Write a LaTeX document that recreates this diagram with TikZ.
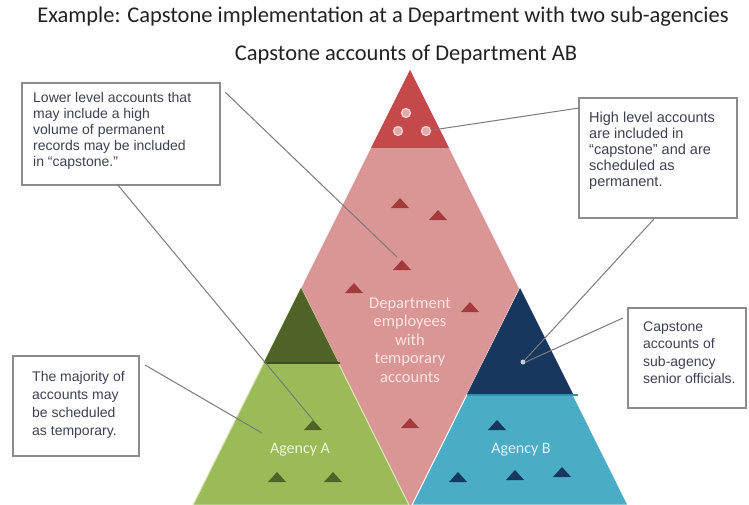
\documentclass[tikz,border=0pt]{standalone}
\usepackage{fontspec}
\setmainfont{Carlito}
\newfontfamily\arialf{Liberation Sans}
\usetikzlibrary{calc}
\definecolor{pinkL}{HTML}{D99694}
\definecolor{redT}{HTML}{C4494B}
\definecolor{redS}{HTML}{A33A3C}
\definecolor{greenL}{HTML}{9BBB59}
\definecolor{greenD}{HTML}{4F6228}
\definecolor{greenE}{HTML}{DCE8BC}
\definecolor{blueL}{HTML}{4BACC6}
\definecolor{blueD}{HTML}{17375E}
\definecolor{blueLine}{HTML}{3B8DB0}
\definecolor{boxgray}{HTML}{8C8C8C}
\definecolor{linec}{HTML}{7A7A7A}
\definecolor{txtc}{HTML}{3C4055}
\definecolor{deptc}{HTML}{F7E4E3}
\definecolor{agAc}{HTML}{EEF4DC}
\definecolor{agBc}{HTML}{DDF0F6}
\definecolor{titlec}{HTML}{222222}
\definecolor{dotf}{HTML}{E4A9A9}
\definecolor{dotr}{HTML}{F4D6D6}
\definecolor{bdot}{HTML}{C5CCDA}
\newcommand\smtri[3]{\fill[#1] (#2-9,#3+5) -- (#2+9,#3+5) -- (#2,#3-5) -- cycle;}
\begin{document}
\begin{tikzpicture}[x=1pt,y=-1pt,
  box/.style={draw=boxgray, line width=1.3pt, fill=white, inner sep=0pt},
  btext/.style={inner sep=0pt, anchor=north west, align=left, text=txtc},
  conn/.style={draw=linec, line width=1pt},
  ttl/.style={inner sep=0pt, text=titlec, font=\fontsize{22.5}{27}\selectfont},
  dotnode/.style={circle, inner sep=0pt, minimum size=9pt, fill=dotf, draw=dotr, line width=1.2pt},
  inlbl/.style={inner sep=0pt, align=center}]
\useasboundingbox (0,0) rectangle (749,505);

% titles
\node[ttl] (title) at (383,17) {Example: Capstone implementation at a Department with two sub-agencies};
\node[ttl] (subtitle) at (406,55) {Capstone accounts of Department AB};

% big department triangle
\fill[pinkL] (410,70) -- (627,505) -- (193,505) -- cycle;
\fill[redT] (410,70) -- (449,148) -- (371,148) -- cycle;

% agency A
\filldraw[fill=greenL, draw=greenE, line width=1pt] (301,288) -- (409,505) -- (193,505) -- cycle;
\fill[greenD] (301,288) -- (338.5,363) -- (263.5,363) -- cycle;
\draw[greenD!80!black, line width=1.2pt] (265,363) -- (340,363);

% agency B
\filldraw[fill=blueL, draw=white, line width=1pt] (520,288) -- (628,505) -- (412,505) -- cycle;
\fill[blueD] (520,288) -- (573,394) -- (467,394) -- cycle;
\draw[blueLine, line width=1.2pt] (467,395) -- (578,395);

% dots
\node[dotnode] (d1) at (406,113) {};
\node[dotnode] (d2) at (398,131) {};
\node[dotnode] (d3) at (426,131) {};
\node[circle, inner sep=0pt, minimum size=5pt, fill=bdot] (bd) at (523,362) {};

% small triangles
\smtri{redS}{400}{203}
\smtri{redS}{438}{215}
\smtri{redS}{402}{265}
\smtri{redS}{354}{288}
\smtri{redS}{470}{307}
\smtri{redS}{410}{423}
\smtri{greenD}{313}{425}
\smtri{greenD}{277}{477}
\smtri{greenD}{333}{477}
\smtri{blueD}{497}{425}
\smtri{blueD}{458}{477}
\smtri{blueD}{515}{475}
\smtri{blueD}{562}{472}

% inner labels
\node[inlbl, text=deptc, font=\fontsize{16.5}{18.5}\selectfont] (dept) at (410,340) {Department\\employees\\with\\temporary\\accounts};
\node[inlbl, text=agAc, font=\fontsize{16}{19}\selectfont] (agA) at (300,450) {Agency A};
\node[inlbl, text=agBc, font=\fontsize{16}{19}\selectfont] (agB) at (521,450) {Agency B};

% boxes
\node[box, minimum width=198pt, minimum height=102pt] (b1) at (121,134) {};
\node[btext, font=\arialf\fontsize{14}{16}\selectfont] (t1) at (33,92.6) {Lower level accounts that\\may include a high\\volume of permanent\\records may be included\\in “capstone.”};

\node[box, minimum width=158pt, minimum height=120pt] (b2) at (658,158) {};
\node[btext, font=\arialf\fontsize{14.5}{16}\selectfont] (t2) at (589,111.6) {High level accounts\\are included in\\“capstone” and are\\scheduled as\\permanent.};

\node[box, minimum width=126pt, minimum height=100pt] (b3) at (76,406) {};
\node[btext, font=\arialf\fontsize{14}{17.8}\selectfont] (t3) at (32,371.6) {The majority of\\accounts may\\be scheduled\\as temporary.};

\node[box, minimum width=118pt, minimum height=100pt] (b4) at (687,358) {};
\node[btext, font=\arialf\fontsize{14}{17.3}\selectfont] (t4) at (643,321.6) {Capstone\\accounts of\\sub-agency\\senior officials.};

% connector end points
\coordinate (c1s) at (225,92);
\coordinate (c1e) at (397,257);
\coordinate (c2s) at (117,184);
\coordinate (c2e) at (313,420);
\coordinate (c3s) at (145,365);
\coordinate (c3e) at (262,433);
\coordinate (c4s) at (579,108);
\coordinate (c5s) at (654,219);
\coordinate (c6s) at (623,318);

\draw[conn] (c1s) -- (c1e);
\draw[conn] (c2s) -- (c2e);
\draw[conn] (c3s) -- (c3e);
\draw[conn] (c4s) -- (d3);
\draw[conn] (c5s) -- (bd);
\draw[conn] (c6s) -- (bd.east);
\end{tikzpicture}
\end{document}
